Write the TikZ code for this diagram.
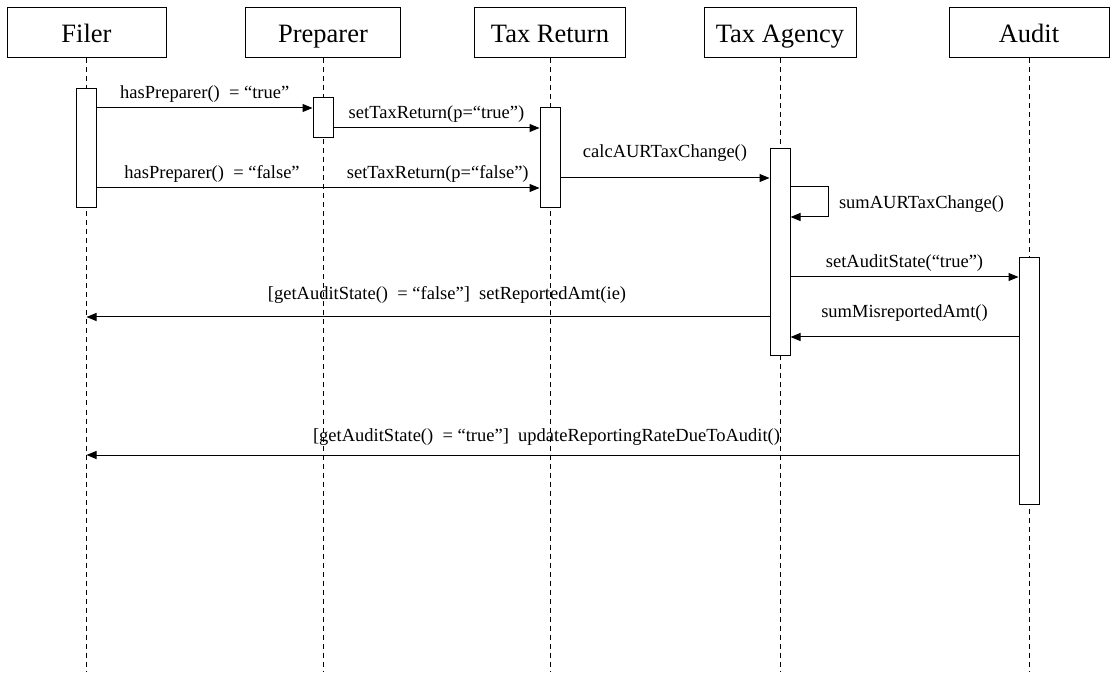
\documentclass[tikz,border=0pt]{standalone}
\usepackage{fontspec}
\setmainfont{Liberation Serif}
\usetikzlibrary{arrows.meta, positioning}

\begin{document}
\begin{tikzpicture}[x=1pt, y=-1pt, >={Triangle[length=10pt,width=8pt]},
    actor/.style={draw, line width=1pt, minimum height=50pt, inner sep=0pt,
      text height=18.5pt, text depth=0pt, font=\fontsize{26.5}{28}\selectfont},
    act/.style={draw, fill=white, line width=1pt, minimum width=20pt,
      anchor=north, inner sep=0pt},
    life/.style={line width=1pt, dash pattern=on 5pt off 4pt},
    msg/.style={->, line width=1pt},
    lbl/.style={font=\fontsize{18.5}{20}\selectfont, inner sep=0pt, anchor=base}]
  \useasboundingbox (0,0) rectangle (1116,684);
  % objects
  \node[actor, minimum width=159pt] (filer) at (86.5,33) {Filer};
  \node[actor, minimum width=155pt] (prep) at (323,33) {Preparer};
  \node[actor, minimum width=151pt] (ret) at (550,33) {Tax Return};
  \node[actor, minimum width=152pt] (agency) at (780,33) {Tax Agency};
  \node[actor, minimum width=160pt] (audit) at (1029,33) {Audit};
  % lifelines
  \draw[life] (filer.south) -- (filer.south |- 0,672);
  \draw[life] (prep.south) -- (prep.south |- 0,672);
  \draw[life] (ret.south) -- (ret.south |- 0,672);
  \draw[life] (agency.south) -- (agency.south |- 0,672);
  \draw[life] (audit.south) -- (audit.south |- 0,672);
  % activations
  \node[act, minimum height=119pt] (fAct) at (filer.south |- 0,88) {};
  \node[act, minimum height=40pt] (pAct) at (prep.south |- 0,97) {};
  \node[act, minimum height=100pt] (rAct) at (ret.south |- 0,107) {};
  \node[act, minimum height=207pt] (gAct) at (agency.south |- 0,148) {};
  \node[act, minimum height=247pt] (aAct) at (audit.south |- 0,257) {};
  % messages
  \draw[msg] (fAct.east |- 0,108)
    -- node[lbl, yshift=9pt] {hasPreparer()\ \ = “true”} (pAct.west |- 0,108);
  \draw[msg] (pAct.east |- 0,128)
    -- node[lbl, yshift=9pt] {setTaxReturn(p=“true”)} (rAct.west |- 0,128);
  \draw[msg] (fAct.east |- 0,188)
    -- node[lbl, yshift=9pt, pos=0.26] {hasPreparer()\ \ = “false”}
       node[lbl, yshift=9pt, pos=0.77] {setTaxReturn(p=“false”)}
    (rAct.west |- 0,188);
  \draw[msg] (rAct.east |- 0,178)
    -- node[lbl, yshift=20pt] {calcAURTaxChange()} (gAct.west |- 0,178);
  \draw[msg] (gAct.east |- 0,187) -- ++(38,0) |- (gAct.east |- 0,217)
    node[lbl, anchor=base west, xshift=48pt, yshift=8pt] {sumAURTaxChange()};
  \draw[msg] (gAct.east |- 0,277)
    -- node[lbl, yshift=9pt] {setAuditState(“true”)} (aAct.west |- 0,277);
  \draw[msg] (gAct.west |- 0,317)
    -- node[lbl, yshift=17pt, xshift=19pt] {[getAuditState()\ \ = “false”]\ \ setReportedAmt(ie)}
    (filer.south |- 0,317);
  \draw[msg] (aAct.west |- 0,337)
    -- node[lbl, yshift=19pt] {sumMisreportedAmt()} (gAct.east |- 0,337);
  \draw[msg] (aAct.west |- 0,455)
    -- node[lbl, yshift=14pt, xshift=-6pt] {[getAuditState()\ \ = “true”]\ \ updateReportingRateDueToAudit()}
    (filer.south |- 0,455);
\end{tikzpicture}
\end{document}
